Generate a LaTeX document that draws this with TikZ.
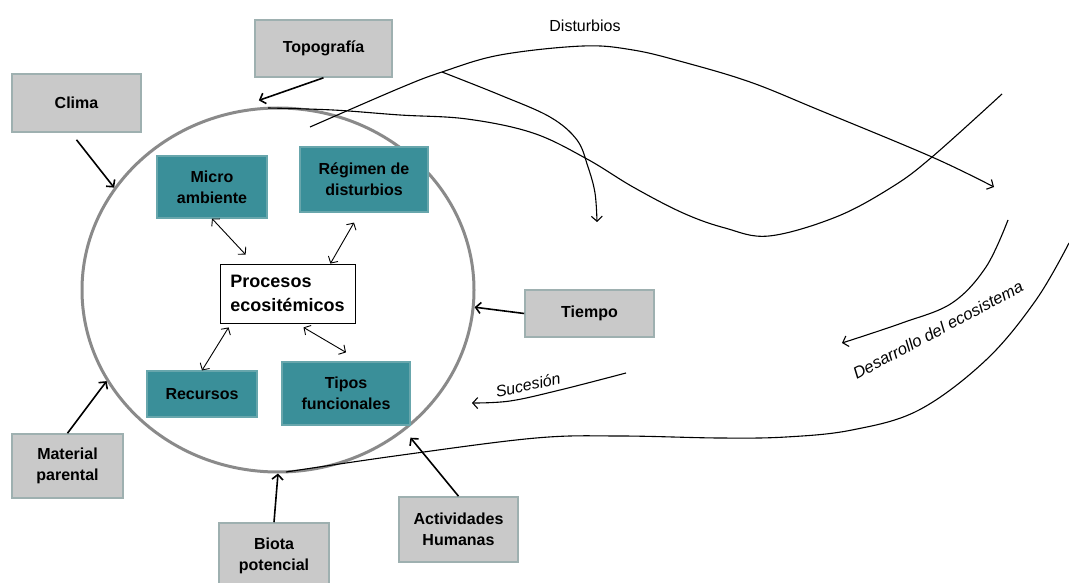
\documentclass[tikz,border=0pt]{standalone}
\usepackage{fontspec}
\setmainfont{Liberation Sans}
\usetikzlibrary{arrows.meta}
\usetikzlibrary{shapes.geometric}
\definecolor{boxgray}{RGB}{201,201,201}
\definecolor{boxedge}{RGB}{158,176,176}
\definecolor{tealfill}{RGB}{58,143,153}
\definecolor{tealedge}{RGB}{104,166,172}
\definecolor{ringgray}{RGB}{138,138,138}
\tikzset{>={Straight Barb[length=5pt,width=11pt]}}
\tikzset{
  factor/.style={draw=boxedge, fill=boxgray, line width=1.6pt, align=center, inner sep=0pt,
    font=\fontsize{16}{21}\selectfont\bfseries},
  inner/.style={draw=tealedge, fill=tealfill, line width=1.2pt, align=center, inner sep=0pt,
    font=\fontsize{16}{21}\selectfont\bfseries},
  procbox/.style={draw, fill=white, line width=0.8pt, align=left, inner sep=0pt,
    font=\fontsize{18}{24}\selectfont\bfseries},
  push/.style={->, line width=1.6pt},
  link/.style={<->, line width=0.9pt},
  flow/.style={line width=1.1pt},
  lbl/.style={font=\fontsize{16}{19}\selectfont}
}

\begin{document}
\begin{tikzpicture}[x=1pt, y=1pt]
      \useasboundingbox (0,0) rectangle (1069,582);

      \node[ellipse, draw=ringgray, line width=3pt, minimum width=392pt, minimum height=364pt] (eco) at (278,292) {};

      \coordinate (d0) at (310,455);
      \coordinate (d1) at (994,395);
      \coordinate (b0) at (442,510);
      \coordinate (b1) at (597,360);
      \coordinate (t0) at (268,474);
      \coordinate (t1) at (1002,488);
      \coordinate (e0) at (1008,362);
      \coordinate (e1) at (842,239);
      \coordinate (o0) at (1069,339);
      \coordinate (o1) at (286,110);
      \coordinate (s0) at (626,209);
      \coordinate (s1) at (472,179);

      \draw[flow] plot[smooth, tension=0.6] coordinates {(t0) (333,472) (400,467) (467,463) (533,449) (587,423) (633,395) (683,369) (725,354) (769,346) (836,365) (892,395) (932,425) (t1)};
      \draw[flow, ->] plot[smooth, tension=0.6] coordinates {(d0) (400,494) (b0) (500,527) (583,536) (633,532) (683,520) (750,500) (819,472) (932,425) (d1)};
      \draw[flow, ->] plot[smooth, tension=0.6] coordinates {(b0) (500,487) (550,465) (577,442) (588,415) (595,389) (b1)};
      \draw[flow, ->] plot[smooth, tension=0.6] coordinates {(e0) (986,315) (952,279) (902,259) (e1)};
      \draw[flow] plot[smooth, tension=0.6] coordinates {(o0) (1036,282) (986,222) (919,172) (852,152) (786,145) (719,144) (620,146) (536,144) (402,127) (o1)};
      \draw[flow, ->] plot[smooth, tension=0.6] coordinates {(s0) (560,192) (510,181) (s1)};

      \node[lbl] (dlab) at (585,556) {Disturbios};
      \node[lbl, font=\fontsize{16}{19}\selectfont\itshape, rotate=12] (slab) at (528,197) {Sucesión};
      \node[lbl, font=\fontsize{16.5}{19}\selectfont\itshape, rotate=28] (elab) at (938,252) {Desarrollo del ecosistema};

      \node[factor, minimum width=129pt, minimum height=58pt] (clima) at (76.5,479) {Clima};
      \node[factor, minimum width=137pt, minimum height=57pt] (topo) at (323.5,533.5) {Topografía};
      \node[factor, minimum width=129pt, minimum height=47pt] (tiempo) at (589.5,268.5) {Tiempo};
      \node[factor, minimum width=111pt, minimum height=64pt] (matpar) at (67.5,116) {Material\\parental};
      \node[factor, minimum width=110pt, minimum height=65pt] (biota) at (274,26.5) {Biota\\potencial};
      \node[factor, minimum width=119pt, minimum height=65pt] (activ) at (458.5,52.5) {Actividades\\Humanas};

      \node[inner, minimum width=110pt, minimum height=62pt] (micro) at (212,395) {Micro\\ambiente};
      \node[inner, minimum width=128pt, minimum height=65pt] (regimen) at (364,402.5) {Régimen de\\disturbios};
      \node[inner, minimum width=110pt, minimum height=46pt] (recur) at (202,188) {Recursos};
      \node[inner, minimum width=128pt, minimum height=63pt] (tipos) at (346,188.5) {Tipos\\funcionales};
      \node[procbox, minimum width=135pt, minimum height=59pt] (proc) at (287.5,288.5) {Procesos\\ecositémicos};

      \draw[push] ([yshift=-7pt]clima.south) -- (eco.148);
      \draw[push] (topo.south) -- ([yshift=7pt]eco.96);
      \draw[push] (tiempo.west) -- (eco.-5);
      \draw[push] (matpar.north) -- (eco.208);
      \draw[push] (biota.north) -- (eco.south);
      \draw[push, shorten >=9pt] (activ.north) -- (eco.-48);

      \draw[link] (micro.south) -- ([xshift=26pt,yshift=9pt]proc.north west);
      \draw[link] ([xshift=-10pt,yshift=-10pt]regimen.south) -- ([xshift=-25pt]proc.north east);
      \draw[link] (recur.north) -- ([xshift=9pt,yshift=-4pt]proc.south west);
      \draw[link] ([yshift=-4pt,xshift=16pt]proc.south) -- ([yshift=9pt]tipos.north);

    \end{tikzpicture}
\end{document}
